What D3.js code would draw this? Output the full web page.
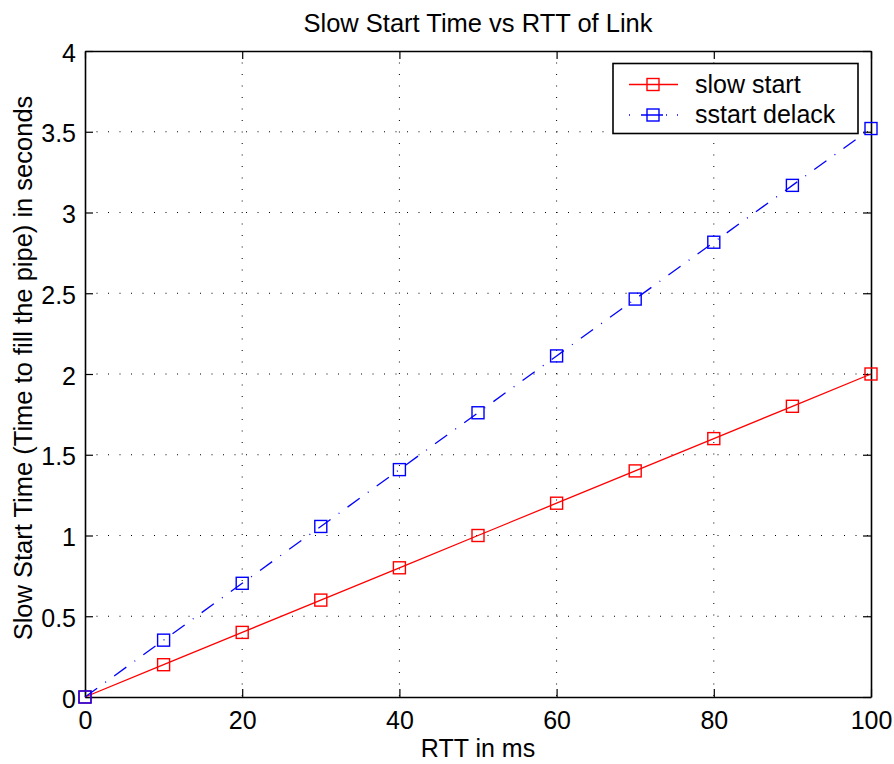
<!DOCTYPE html>
<html>
<head>
<meta charset="utf-8">
<script src="https://cdn.jsdelivr.net/npm/d3@7"></script>
<style>
  html, body { margin: 0; padding: 0; background: #fff; }
  svg { display: block; }
  text { font-family: "Liberation Sans", Arial, Helvetica, sans-serif; fill: #000; }
</style>
</head>
<body>
<script>
// RTT of the link (ms)
const rtt = [0, 10, 20, 30, 40, 50, 60, 70, 80, 90, 100];
// Time to fill the pipe (s)
const slowStart = [0, 0.2, 0.4, 0.6, 0.8, 1.0, 1.2, 1.4, 1.6, 1.8, 2.0];
const sstartDelack = [0, 0.352, 0.704, 1.056, 1.408, 1.76, 2.112, 2.464, 2.816, 3.168, 3.52];
const xTicks = [0, 20, 40, 60, 80, 100];
const yTicks = [0, 0.5, 1, 1.5, 2, 2.5, 3, 3.5, 4];
const seriesNames = ["slow start", "sstart delack"];

const W = 894, H = 764;
const m = { left: 85, right: 23, top: 51, bottom: 67 };
const pw = W - m.left - m.right, ph = H - m.top - m.bottom;
const FS = 25;

const svg = d3.select("body").append("svg").attr("width", W).attr("height", H);
const g = svg.append("g").attr("transform", `translate(${m.left},${m.top})`);

const x = d3.scaleLinear().domain([0, 100]).range([0, pw]);
const y = d3.scaleLinear().domain([0, 4]).range([ph, 0]);

// dotted grid
const grid = g.append("g");
grid.selectAll("line.gx").data(xTicks.slice(1, -1)).join("line")
  .attr("x1", d => x(d)).attr("x2", d => x(d)).attr("y1", 0).attr("y2", ph)
  .attr("stroke", "#000").attr("stroke-width", 1).attr("stroke-dasharray", "1,10.5");
grid.selectAll("line.gy").data(yTicks.slice(1, -1)).join("line")
  .attr("y1", d => y(d)).attr("y2", d => y(d)).attr("x1", 0).attr("x2", pw)
  .attr("stroke", "#000").attr("stroke-width", 1).attr("stroke-dasharray", "1,10.5");

// axes with inward ticks, box style
const fmt = d3.format("~g");
const tickLen = 8;
const axB = g.append("g").attr("transform", `translate(0,${ph})`)
  .call(d3.axisBottom(x).tickValues(xTicks).tickFormat(fmt).tickSizeInner(-tickLen).tickSizeOuter(0).tickPadding(14));
const axL = g.append("g")
  .call(d3.axisLeft(y).tickValues(yTicks).tickFormat(fmt).tickSizeInner(-tickLen).tickSizeOuter(0).tickPadding(9));
const axT = g.append("g")
  .call(d3.axisTop(x).tickValues(xTicks).tickFormat("").tickSizeInner(-tickLen).tickSizeOuter(0));
const axR = g.append("g").attr("transform", `translate(${pw},0)`)
  .call(d3.axisRight(y).tickValues(yTicks).tickFormat("").tickSizeInner(-tickLen).tickSizeOuter(0));
[axB, axL, axT, axR].forEach(a => {
  a.select(".domain").attr("stroke", "#000").attr("stroke-width", 1.6);
  a.selectAll(".tick line").attr("stroke", "#000").attr("stroke-width", 1.2);
  a.selectAll("text").style("font-size", FS + "px").attr("font-family", null);
});
axB.selectAll("text").attr("dy", "0.71em");
axL.selectAll("text").attr("dy", "0.4em");

// series
const series = [
  { name: seriesNames[0], vals: slowStart, color: "#ff0000", dash: null, legDash: null },
  { name: seriesNames[1], vals: sstartDelack, color: "#0000ff", dash: "15,10,1,10", legDash: "1,11,22,3,1,10,1,20" }
];
const line = d3.line().x(d => x(d[0])).y(d => y(d[1]));
const ms = 12;
series.forEach(s => {
  const pts = rtt.map((r, i) => [r, s.vals[i]]);
  g.append("path").datum(pts).attr("d", line)
    .attr("fill", "none").attr("stroke", s.color).attr("stroke-width", 1.3)
    .attr("stroke-dasharray", s.dash);
  g.selectAll(null).data(pts).join("rect")
    .attr("x", d => x(d[0]) - ms / 2).attr("y", d => y(d[1]) - ms / 2)
    .attr("width", ms).attr("height", ms)
    .attr("fill", "none").attr("stroke", s.color).attr("stroke-width", 1.4);
});

// legend
const lg = svg.append("g");
lg.append("rect").attr("x", 613).attr("y", 63.5).attr("width", 245).attr("height", 70)
  .attr("fill", "#fff").attr("stroke", "#000").attr("stroke-width", 1.6);
series.forEach((s, i) => {
  const ly = 84.5 + i * 30.5;
  lg.append("line").attr("x1", 629).attr("x2", 678).attr("y1", ly).attr("y2", ly)
    .attr("stroke", s.color).attr("stroke-width", 1.3).attr("stroke-dasharray", s.legDash);
  lg.append("rect").attr("x", 653 - ms / 2).attr("y", ly - ms / 2).attr("width", ms).attr("height", ms)
    .attr("fill", "none").attr("stroke", s.color).attr("stroke-width", 1.4);
  lg.append("text").attr("x", 695).attr("y", ly).attr("dy", "0.33em")
    .style("font-size", FS + "px").text(s.name);
});

// titles
svg.append("text").attr("x", m.left + pw / 2).attr("y", 32).attr("text-anchor", "middle")
  .style("font-size", "25.5px").text("Slow Start Time vs RTT of Link");
svg.append("text").attr("x", m.left + pw / 2).attr("y", 757).attr("text-anchor", "middle")
  .style("font-size", FS + "px").text("RTT in ms");
svg.append("text").attr("transform", `translate(32,368) rotate(-90)`)
  .attr("text-anchor", "middle").style("font-size", "25.5px")
  .text("Slow Start Time (Time to fill the pipe) in seconds");
</script>
</body>
</html>
